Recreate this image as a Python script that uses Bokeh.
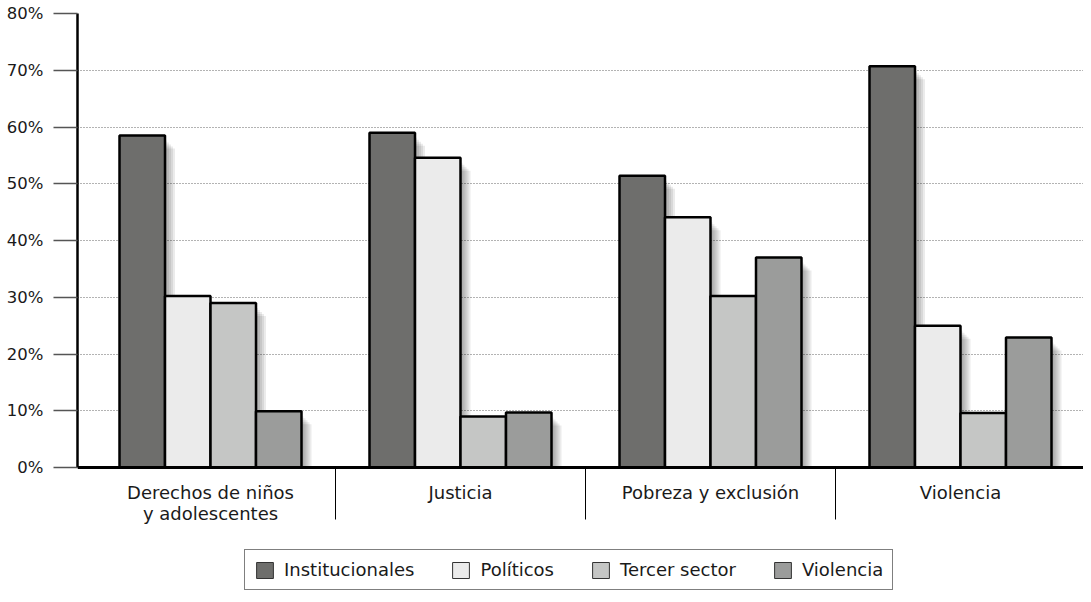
from bokeh.plotting import figure
from bokeh.models import Range1d, FixedTicker, Span, Legend, LegendItem, ColumnDataSource
from bokeh.core.properties import value
from bokeh.embed import file_html
from bokeh.resources import INLINE

categories = ["Derechos de niños\ny adolescentes", "Justicia", "Pobreza y exclusión", "Violencia"]
series_names = ["Institucionales", "Políticos", "Tercer sector", "Violencia"]
institucionales = [58.5, 59.0, 51.4, 70.7]
politicos = [30.2, 54.6, 44.1, 25.0]
tercer_sector = [29.0, 9.0, 30.2, 9.6]
violencia = [9.9, 9.7, 37.0, 22.9]
y_ticks = [0, 10, 20, 30, 40, 50, 60, 70, 80]
y_tick_labels = ["0%", "10%", "20%", "30%", "40%", "50%", "60%", "70%", "80%"]

series_values = [institucionales, politicos, tercer_sector, violencia]
colors = ["#6e6e6c", "#ebebeb", "#c5c6c5", "#9b9c9b"]

FONT = "DejaVu Sans"
W, H = 1083, 594
LEFT, TOP = 77, 13
PX_X = 250.0      # px per category unit
PX_Y = 454 / 80.0  # px per percent
bar_w = 0.182

y_top = 80
y_bottom = -(H - TOP - 80 * PX_Y) / PX_Y
x_start = -0.532

p = figure(width=W, height=H, output_backend="svg", toolbar_location=None,
           x_range=Range1d(x_start, x_start + (W - LEFT) / PX_X),
           y_range=Range1d(y_bottom, y_top),
           min_border_left=LEFT, min_border_right=0, min_border_top=TOP, min_border_bottom=0,
           x_axis_location=None)
p.outline_line_color = None
p.background_fill_color = "white"
p.border_fill_color = "white"

# y axis
ax = p.yaxis[0]
ax.ticker = FixedTicker(ticks=y_ticks)
ax.major_label_overrides = {t: l for t, l in zip(y_ticks, y_tick_labels)}
ax.bounds = (0, 80)
ax.axis_line_color = "black"
ax.axis_line_width = 2.5
ax.major_tick_out = 24
ax.major_tick_in = 0
ax.major_tick_line_color = "#555555"
ax.major_tick_line_width = 1.5
ax.minor_tick_line_color = None
ax.major_label_standoff = 10
ax.major_label_text_font = FONT
ax.major_label_text_font_size = "16.5px"
ax.major_label_text_color = "#1a1a1a"

p.xgrid.visible = False
p.ygrid.ticker = FixedTicker(ticks=y_ticks[1:])
p.ygrid.grid_line_color = "#666666"
p.ygrid.grid_line_dash = "1 2"
p.ygrid.grid_line_width = 1

# shadows
offsets = [(-1.5 + i) * bar_w for i in range(4)]
for k in range(1, 6):
    dx = 2.0 * k / PX_X
    dy = (3.0 + 2.0 * k) / PX_Y
    for j, vals in enumerate(series_values):
        src = ColumnDataSource(dict(
            left=[g + offsets[j] - bar_w / 2 + dx for g in range(len(categories))],
            right=[g + offsets[j] + bar_w / 2 + dx for g in range(len(categories))],
            top=[v - dy for v in vals],
            bottom=[0] * len(vals)))
        p.quad(left="left", right="right", top="top", bottom="bottom", source=src,
               fill_color="black", fill_alpha=0.08, line_color=None)

# bars
for j, vals in enumerate(series_values):
    src = ColumnDataSource(dict(
        left=[g + offsets[j] - bar_w / 2 for g in range(len(categories))],
        right=[g + offsets[j] + bar_w / 2 for g in range(len(categories))],
        top=vals,
        bottom=[0] * len(vals)))
    p.quad(left="left", right="right", top="top", bottom="bottom", source=src,
           fill_color=colors[j], line_color="black", line_width=2.5)

# baseline
p.add_layout(Span(location=0, dimension="width", line_color="black", line_width=3))

# separators
sep_x = [i + 0.5 for i in range(len(categories) - 1)]
p.segment(x0=sep_x, x1=sep_x, y0=[0] * len(sep_x), y1=[-52 / PX_Y] * len(sep_x),
          line_color="black", line_width=1)

# category labels
p.text(x=list(range(len(categories))), y=[-14.5 / PX_Y] * len(categories), text=categories,
       text_align="center", text_baseline="top", text_font=value(FONT),
       text_font_size="18px", text_color="#1a1a1a", text_line_height=1.0)

# legend with proxy renderers (thin outline swatches)
nan = float("nan")
items = []
for j, name in enumerate(series_names):
    r = p.quad(left=[nan], right=[nan], top=[nan], bottom=[nan], fill_color=colors[j],
               line_color="#333333", line_width=1)
    items.append(LegendItem(label=name, renderers=[r]))
legend = Legend(items=items, orientation="horizontal", location=(167, 4),
                border_line_color="black", border_line_width=1,
                label_text_font=FONT, label_text_font_size="18px", label_text_color="#1a1a1a",
                glyph_width=21, glyph_height=20, label_standoff=9, spacing=36,
                padding=9, margin=0, background_fill_alpha=1)
p.add_layout(legend)

open("out.html", "w").write(file_html(p, INLINE))
